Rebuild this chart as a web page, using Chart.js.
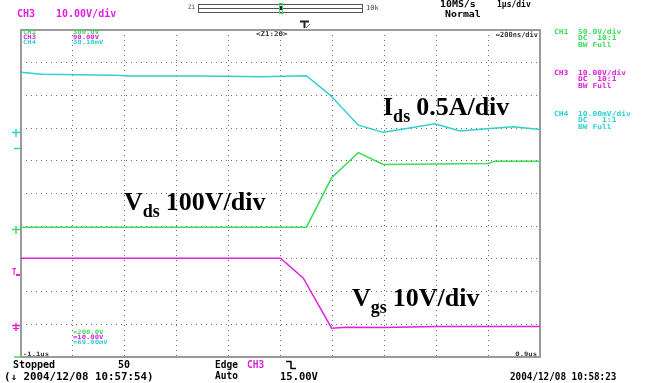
<!DOCTYPE html>
<html>
<head>
<meta charset="utf-8">
<script src="https://cdn.jsdelivr.net/npm/chart.js@4/dist/chart.umd.min.js"></script>
<style>
  html, body { margin: 0; padding: 0; background: #fff; }
  canvas { display: block; }
</style>
</head>
<body>
<canvas id="scope" width="647" height="383"></canvas>
<script>
// time base -1.1us .. 0.9us at 200ns/div, vertical in graticule divisions (0..10)
const timeTicks = [-1.1, -0.9, -0.7, -0.5, -0.3, -0.1, 0.1, 0.3, 0.5, 0.7, 0.9];
const divTicks = [0, 1, 2, 3, 4, 5, 6, 7, 8, 9, 10];

// CH1 - Vds
const ch1Time = [-1.1, 0.0, 0.097, 0.2, 0.296, 0.7, 0.727, 0.9];
const ch1Div = [3.97, 3.97, 5.48, 6.25, 5.89, 5.92, 5.99, 5.99];

// CH3 - Vgs
const ch3Time = [-1.1, -0.1, -0.012, 0.097, 0.155, 0.296, 0.5, 0.9];
const ch3Div = [3.02, 3.02, 2.41, 0.88, 0.91, 0.90, 0.93, 0.93];

// CH4 - Ids
const ch4Time = [-1.1, -1.02, -0.74, -0.69, -0.41, -0.17, 0.0, 0.091, 0.2, 0.296, 0.386, 0.495, 0.591, 0.707, 0.797, 0.9];
const ch4Div = [8.71, 8.65, 8.62, 8.59, 8.59, 8.57, 8.60, 8.01, 7.09, 6.87, 6.99, 7.13, 6.91, 6.99, 7.04, 6.96];

const GREEN = "#3ddc5a", MAGENTA = "#e020e0", CYAN = "#30d0d0", FRAME = "#9a9a9a";
const MONO = '"DejaVu Sans Mono"';

function pts(xs, ys) {
  return xs.map((x, i) => ({ x: x, y: ys[i] }));
}

function put(ctx, s, x, y, color, size, opt) {
  opt = opt || {};
  ctx.save();
  ctx.fillStyle = color;
  ctx.font = (opt.bold === false ? "" : "bold ") + size + "px " + (opt.family || MONO);
  ctx.textBaseline = opt.baseline || "middle";
  ctx.textAlign = opt.align || "left";
  ctx.translate(x, y);
  ctx.scale(opt.sx || 1, 1);
  ctx.fillText(s, 0, 0);
  ctx.restore();
}

// big hand-written style labels: main text with subscript
function label(ctx, head, sub, rest, x, y) {
  const big = 'bold 26px "Liberation Serif"', small = 'bold 18px "Liberation Serif"';
  ctx.save();
  ctx.fillStyle = "#000";
  ctx.textBaseline = "alphabetic";
  ctx.font = big;
  ctx.fillText(head, x, y);
  let cx = x + ctx.measureText(head).width;
  ctx.font = small;
  ctx.fillText(sub, cx, y + 7);
  cx += ctx.measureText(sub).width + 6;
  ctx.font = big;
  ctx.fillText(rest, cx, y);
  ctx.restore();
}

function line(ctx, x1, y1, x2, y2, color, w) {
  ctx.save();
  ctx.strokeStyle = color;
  ctx.lineWidth = w || 1;
  ctx.beginPath();
  ctx.moveTo(x1, y1);
  ctx.lineTo(x2, y2);
  ctx.stroke();
  ctx.restore();
}

const framePlugin = {
  id: "frame",
  beforeDatasetsDraw(chart) {
    const { ctx, chartArea: a } = chart;
    ctx.save();
    ctx.strokeStyle = FRAME;
    ctx.lineWidth = 2;
    ctx.strokeRect(a.left, a.top, a.right - a.left, a.bottom - a.top);
    ctx.restore();
  }
};

const textPlugin = {
  id: "scopeText",
  afterDraw(chart) {
    const ctx = chart.ctx;

    // header
    put(ctx, "CH3", 17, 14, MAGENTA, 10);
    put(ctx, "10.00V/div", 56, 14, MAGENTA, 10);
    put(ctx, "10MS/s", 440, 5, "#000", 9, { sx: 1.1 });
    put(ctx, "1\u00b5s/div", 497, 5, "#000", 8);
    put(ctx, "Normal", 445, 15, "#000", 9, { sx: 1.1 });

    // zoom bar
    put(ctx, "Z1", 188, 7, "#444", 6, { bold: false });
    ctx.save();
    ctx.strokeStyle = "#555";
    ctx.lineWidth = 1;
    ctx.strokeRect(198.5, 4.5, 164, 8);
    ctx.restore();
    line(ctx, 199, 8.5, 362, 8.5, "#555", 1);
    ctx.save();
    ctx.strokeStyle = GREEN;
    ctx.strokeRect(279.5, 3.5, 3, 10);
    ctx.fillStyle = "#222";
    ctx.fillRect(280, 6, 2, 4);
    ctx.restore();
    put(ctx, "10k", 366, 8, "#444", 7, { bold: false });

    // trigger position marker at top
    line(ctx, 300, 21.5, 309, 21.5, "#222", 2);
    line(ctx, 304.5, 21, 304.5, 28, "#222", 2);
    line(ctx, 306, 28, 310, 24, "#666", 1);

    // in-graticule readouts
    put(ctx, "CH1", 23, 32, GREEN, 6, { sx: 1.2 });
    put(ctx, "CH3", 23, 37, MAGENTA, 6, { sx: 1.2 });
    put(ctx, "CH4", 23, 42, CYAN, 6, { sx: 1.2 });
    put(ctx, "300.0V", 73, 32, GREEN, 6, { sx: 1.2 });
    put(ctx, "90.00V", 73, 37, MAGENTA, 6, { sx: 1.2 });
    put(ctx, "30.10mV", 73, 42, CYAN, 6, { sx: 1.2 });
    put(ctx, "<Z1:20>", 256, 34, "#333", 6.5, { sx: 1.15 });
    put(ctx, "\u2194200ns/div", 538, 35, "#333", 7, { align: "right" });

    put(ctx, "=200.0V", 73, 332, GREEN, 6, { sx: 1.2 });
    put(ctx, "=10.00V", 73, 337, MAGENTA, 6, { sx: 1.2 });
    put(ctx, "=69.90mV", 73, 342, CYAN, 6, { sx: 1.2 });
    put(ctx, "-1.1us", 23, 354, "#333", 6, { sx: 1.2 });
    put(ctx, "0.9us", 537, 354, "#333", 6, { sx: 1.2, align: "right" });

    // channel settings panel
    const panel = [
      ["CH1", "50.0V/div", "DC  10:1", GREEN, 32],
      ["CH3", "10.00V/div", "DC  10:1", MAGENTA, 73],
      ["CH4", "10.00mV/div", "DC   1:1", CYAN, 114]
    ];
    panel.forEach(p => {
      put(ctx, p[0], 554, p[4], p[3], 7, { sx: 1.14 });
      put(ctx, p[1], 578, p[4], p[3], 7, { sx: 1.14 });
      put(ctx, p[2], 578, p[4] + 6.5, p[3], 7, { sx: 1.14 });
      put(ctx, "BW Full", 578, p[4] + 13, p[3], 7, { sx: 1.14 });
    });

    // ground / trigger markers on the left edge
    line(ctx, 12, 132.5, 20, 132.5, CYAN, 1.5);
    line(ctx, 16, 129, 16, 137, CYAN, 1.5);
    line(ctx, 14, 148.5, 21, 148.5, CYAN, 1.5);
    line(ctx, 12, 229.5, 20, 229.5, GREEN, 1.5);
    line(ctx, 16, 226, 16, 234, GREEN, 1.5);
    put(ctx, "T", 12, 273, MAGENTA, 8, { sx: 0.9 });
    line(ctx, 16, 275, 20, 275, MAGENTA, 2);
    line(ctx, 12, 325.5, 20, 325.5, MAGENTA, 1.5);
    line(ctx, 16, 323, 16, 331, MAGENTA, 1.5);
    line(ctx, 13, 328.5, 19, 328.5, MAGENTA, 1);
    line(ctx, 14, 357, 21, 357, GREEN, 1.5);

    // status lines
    put(ctx, "Stopped", 13, 365, "#000", 10);
    put(ctx, "50", 118, 365, "#000", 10);
    put(ctx, "Edge", 215, 365, "#000", 10, { sx: 0.95 });
    put(ctx, "CH3", 247, 365, MAGENTA, 10, { sx: 0.95 });
    line(ctx, 286, 361.5, 291, 361.5, "#000", 1.5);
    line(ctx, 291, 361, 291, 369, "#000", 1.5);
    line(ctx, 291, 368.5, 296, 368.5, "#000", 1.5);
    put(ctx, "(\u2193 2004/12/08 10:57:54)", 4, 377, "#000", 10, { sx: 1.08 });
    put(ctx, "Auto", 215, 376, "#000", 10, { sx: 0.95 });
    put(ctx, "15.00V", 280, 377, "#000", 10, { sx: 1.05 });
    put(ctx, "2004/12/08 10:58:23", 510, 377, "#000", 10, { sx: 0.93 });

    // signal annotations
    label(ctx, "I", "ds", "0.5A/div", 383, 115);
    label(ctx, "V", "ds", "100V/div", 124, 210);
    label(ctx, "V", "gs", "10V/div", 352, 306);
  }
};

new Chart(document.getElementById("scope"), {
  type: "line",
  data: {
    datasets: [
      { label: "CH4 Ids", data: pts(ch4Time, ch4Div), borderColor: CYAN },
      { label: "CH1 Vds", data: pts(ch1Time, ch1Div), borderColor: GREEN },
      { label: "CH3 Vgs", data: pts(ch3Time, ch3Div), borderColor: MAGENTA }
    ]
  },
  options: {
    responsive: false,
    animation: false,
    devicePixelRatio: 1,
    layout: { padding: { left: 21, top: 30, right: 107, bottom: 26 } },
    elements: {
      line: { borderWidth: 1.5, tension: 0, fill: false },
      point: { radius: 0 }
    },
    plugins: { legend: { display: false }, tooltip: { enabled: false } },
    scales: {
      x: {
        type: "linear",
        min: -1.1,
        max: 0.9,
        afterBuildTicks: s => { s.ticks = timeTicks.map(v => ({ value: v })); },
        ticks: { display: false },
        grid: { color: "#6a6a6a", lineWidth: 1, drawTicks: false },
        border: { display: false, dash: [1, 4] }
      },
      y: {
        type: "linear",
        min: 0,
        max: 10,
        afterBuildTicks: s => { s.ticks = divTicks.map(v => ({ value: v })); },
        ticks: { display: false },
        grid: { color: "#6a6a6a", lineWidth: 1, drawTicks: false },
        border: { display: false, dash: [1, 4] }
      }
    }
  },
  plugins: [framePlugin, textPlugin]
});
</script>
</body>
</html>
